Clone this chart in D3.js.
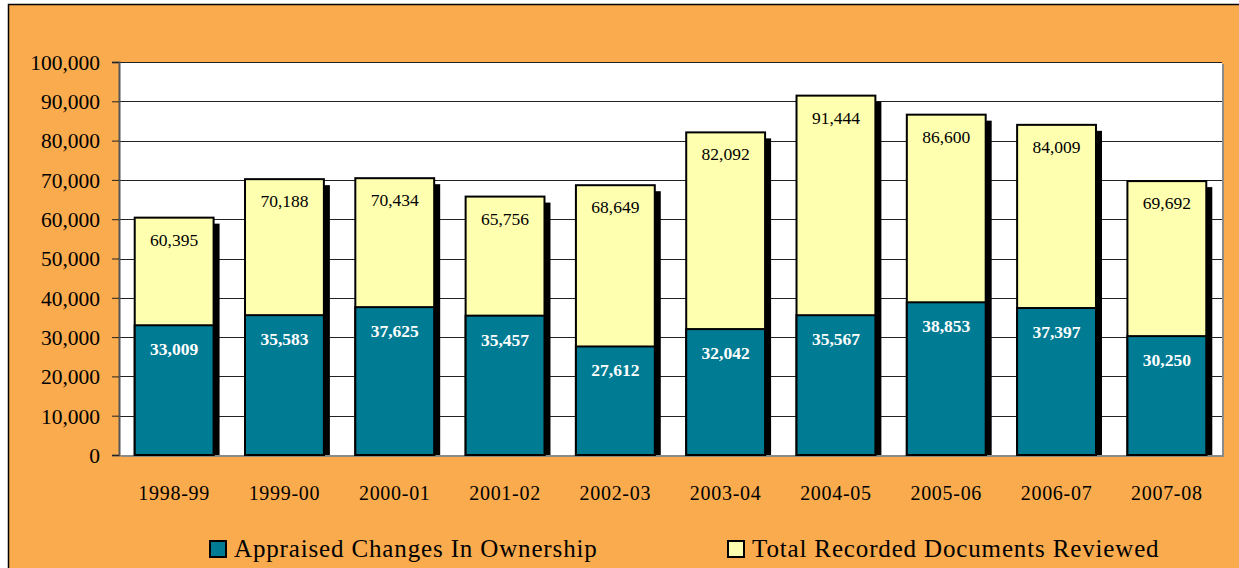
<!DOCTYPE html>
<html>
<head>
<meta charset="utf-8">
<script src="https://cdn.jsdelivr.net/npm/d3@7"></script>
<style>
  body { margin: 0; background: #fff; overflow: hidden; }
  svg { display: block; }
</style>
</head>
<body>
<script>
const years = ['1998-99', '1999-00', '2000-01', '2001-02', '2002-03', '2003-04', '2004-05', '2005-06', '2006-07', '2007-08'];
const appraised = [33009, 35583, 37625, 35457, 27612, 32042, 35567, 38853, 37397, 30250];
const totals = [60395, 70188, 70434, 65756, 68649, 82092, 91444, 86600, 84009, 69692];
const yTicks = [0, 10000, 20000, 30000, 40000, 50000, 60000, 70000, 80000, 90000, 100000];
const seriesNames = ['Appraised Changes In Ownership', 'Total Recorded Documents Reviewed'];

const w = 1239;
const h = 568;
const teal = '#007b94';
const pale = '#ffffb0';
const serif = '"Liberation Serif", "DejaVu Serif", serif';

const svg = d3.select('body')
  .append('svg')
  .attr('width', w)
  .attr('height', h)
  .style('font-family', serif);

// orange frame
svg.append('rect')
  .attr('x', 8.5).attr('y', 4.5)
  .attr('width', w + 10).attr('height', h + 10)
  .attr('fill', '#f9ab4e')
  .attr('stroke', '#000')
  .attr('stroke-width', 1.5);

const plotL = 119, plotR = 1222, plotT = 62, plotB = 455;

const x = d3.scaleBand()
  .domain(years)
  .range([plotL, plotR])
  .paddingInner(0.285)
  .paddingOuter(0.1425);

const y = d3.scaleLinear()
  .domain([0, 100000])
  .range([plotB, plotT]);

// plot area with grey shadow
svg.append('rect')
  .attr('x', plotL + 2).attr('y', plotT + 2)
  .attr('width', plotR - plotL).attr('height', plotB - plotT)
  .attr('fill', '#8a8a8a');
svg.append('rect')
  .attr('x', plotL).attr('y', plotT)
  .attr('width', plotR - plotL).attr('height', plotB - plotT)
  .attr('fill', '#fff');

// gridlines
svg.append('g')
  .selectAll('line')
  .data(yTicks.slice(1))
  .join('line')
  .attr('x1', plotL).attr('x2', plotR)
  .attr('y1', d => Math.round(y(d)) + 0.5)
  .attr('y2', d => Math.round(y(d)) + 0.5)
  .attr('stroke', '#222')
  .attr('stroke-width', 1);

// y axis
const yAxis = svg.append('g')
  .attr('transform', `translate(${plotL},0)`)
  .call(d3.axisLeft(y).tickValues(yTicks).tickSize(7).tickPadding(12).tickFormat(d3.format(',')));
yAxis.attr('font-family', null).attr('font-size', null);
yAxis.select('.domain').attr('stroke', '#555').attr('stroke-width', 2);
yAxis.selectAll('.tick line').attr('stroke', '#222');
yAxis.selectAll('text')
  .attr('font-size', 21.5)
  .attr('fill', '#000')
  .attr('dy', '0.34em');

const bw = x.bandwidth();

// shadows
svg.append('g')
  .selectAll('rect')
  .data(totals)
  .join('rect')
  .attr('x', (d, i) => x(years[i]) + bw)
  .attr('y', d => y(d) + 6)
  .attr('width', 6)
  .attr('height', d => plotB - y(d) - 6)
  .attr('fill', '#000');

// total bars
svg.append('g')
  .selectAll('rect')
  .data(totals)
  .join('rect')
  .attr('x', (d, i) => x(years[i]))
  .attr('y', d => y(d))
  .attr('width', bw)
  .attr('height', d => plotB - y(d))
  .attr('fill', pale)
  .attr('stroke', '#000')
  .attr('stroke-width', 2);

// appraised bars
svg.append('g')
  .selectAll('rect')
  .data(appraised)
  .join('rect')
  .attr('x', (d, i) => x(years[i]))
  .attr('y', d => y(d))
  .attr('width', bw)
  .attr('height', d => plotB - y(d))
  .attr('fill', teal)
  .attr('stroke', '#000')
  .attr('stroke-width', 2);

// labels
svg.append('g')
  .selectAll('text')
  .data(totals)
  .join('text')
  .attr('x', (d, i) => x(years[i]) + bw / 2)
  .attr('y', d => y(d) + 28)
  .attr('text-anchor', 'middle')
  .attr('font-size', 17.5)
  .attr('fill', '#000')
  .text(d => d3.format(',')(d));

svg.append('g')
  .selectAll('text')
  .data(appraised)
  .join('text')
  .attr('x', (d, i) => x(years[i]) + bw / 2)
  .attr('y', d => y(d) + 30)
  .attr('text-anchor', 'middle')
  .attr('font-size', 17.5)
  .attr('font-weight', 'bold')
  .attr('fill', '#fff')
  .text(d => d3.format(',')(d));

// x labels
svg.append('g')
  .selectAll('text')
  .data(years)
  .join('text')
  .attr('x', d => x(d) + bw / 2)
  .attr('y', 500)
  .attr('text-anchor', 'middle')
  .attr('font-size', 20)
  .attr('letter-spacing', 0.7)
  .attr('fill', '#000')
  .text(d => d);

// legend
const legend = svg.append('g');
const legendX = [210, 728];
const legendFill = [teal, pale];
seriesNames.forEach((name, i) => {
  legend.append('rect')
    .attr('x', legendX[i]).attr('y', 541)
    .attr('width', 16).attr('height', 16)
    .attr('fill', legendFill[i])
    .attr('stroke', '#000')
    .attr('stroke-width', 2);
  legend.append('text')
    .attr('x', legendX[i] + 24).attr('y', 557)
    .attr('font-size', 25)
    .attr('letter-spacing', 0.85)
    .attr('fill', '#000')
    .text(name);
});
</script>
</body>
</html>
